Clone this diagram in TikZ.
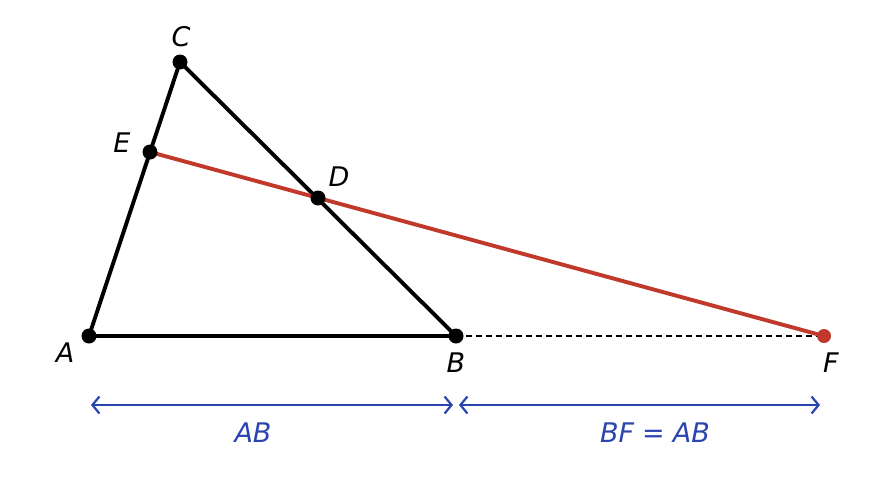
\documentclass[tikz,border=0pt]{standalone}
\usepackage{fontspec}
\setmainfont{DejaVu Sans}
\usetikzlibrary{arrows.meta}
\definecolor{redline}{HTML}{C0392B}
\definecolor{blueline}{HTML}{2A45B0}
\begin{document}
\begin{tikzpicture}[x=1pt,y=-1pt,
  pt/.style={circle,fill=black,inner sep=0pt,minimum size=15pt},
  lbl/.style={font=\fontsize{27}{31}\selectfont\itshape,inner sep=0pt},
  seg/.style={line width=3.9pt},
  dim/.style={blueline,line width=2.2pt,{Straight Barb[length=7pt,width=17pt]}-{Straight Barb[length=7pt,width=17pt]}},
  dimlbl/.style={blueline,font=\fontsize{27}{31}\selectfont,inner sep=0pt}]
\useasboundingbox (0,0) rectangle (894,480);
\coordinate (A) at (89,336);
\coordinate (B) at (456,336);
\coordinate (C) at (180,62);
\coordinate (D) at (318,198);
\coordinate (E) at (150,152);
\coordinate (F) at (824,336);
\draw[line width=1.8pt,dash pattern=on 6pt off 4pt] (B) -- (F);
\draw[seg,line join=round] (A) -- (B) -- (C) -- cycle;
\draw[seg,redline] (E) -- (F);
\node[pt] (pA) at (A) {};
\node[pt] (pB) at (B) {};
\node[pt] (pC) at (C) {};
\node[pt] (pD) at (D) {};
\node[pt] (pE) at (E) {};
\node[pt,fill=redline,minimum size=14pt] (pF) at (F) {};
\node[lbl] (lA) at (65,353) {A};
\node[lbl] (lB) at (456,363) {B};
\node[lbl] (lC) at (181,37) {C};
\node[lbl] (lD) at (339,177) {D};
\node[lbl] (lE) at (122,143) {E};
\node[lbl] (lF) at (831,363) {F};
\coordinate (d1) at (91,405);
\coordinate (d2) at (453,405);
\coordinate (d3) at (459,405);
\coordinate (d4) at (820,405);
\draw[dim] (d1) -- (d2);
\draw[dim] (d3) -- (d4);
\node[dimlbl] (lAB) at (253,433) {\itshape AB};
\node[dimlbl] (lBF) at (655,433) {{\itshape BF}\hspace{8pt}=\hspace{8pt}{\itshape AB}};
\end{tikzpicture}
\end{document}
